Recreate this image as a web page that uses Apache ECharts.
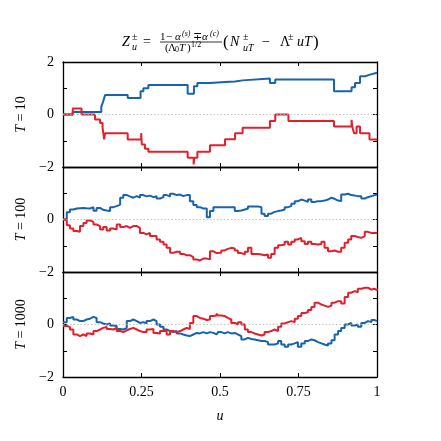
<!DOCTYPE html>
<html>
<head>
<meta charset="utf-8">
<script src="https://cdn.jsdelivr.net/npm/echarts@6/dist/echarts.min.js"></script>
<style>
html,body{margin:0;padding:0;background:#fff;}
#chart{width:441px;height:441px;}
</style>
</head>
<body>
<div id="chart"></div>
<script>
// panel labels and ticks
var panel_T = ['10', '100', '1000'];
var u_ticks = [0, 0.25, 0.5, 0.75, 1];

// T = 10 : step points (u where the value starts, value)
var t10_blue_u = [0, 0.031, 0.122, 0.128, 0.134, 0.206, 0.247, 0.256, 0.272, 0.397, 0.417, 0.428, 0.468, 0.516, 0.548, 0.572, 0.659, 0.676, 0.863, 0.919, 0.93, 0.946, 0.962, 0.978, 1];
var t10_blue_v = [0, 0.1, 0.3, 0.5, 0.74, 0.63, 0.89, 1.0, 1.12, 0.79, 1.08, 1.2, 1.24, 1.26, 1.3, 1.37, 1.2, 1.33, 0.89, 1.04, 1.2, 1.46, 1.52, 1.59, 1.59];
var t10_red_u = [0, 0.031, 0.059, 0.102, 0.118, 0.126, 0.131, 0.134, 0.206, 0.249, 0.251, 0.261, 0.272, 0.397, 0.416, 0.418, 0.428, 0.468, 0.516, 0.548, 0.572, 0.659, 0.676, 0.718, 0.863, 0.919, 0.921, 0.927, 0.935, 0.946, 0.976, 1];
var t10_red_v = [0, 0.23, 0, -0.19, -0.32, -0.5, -0.95, -0.71, -0.95, -0.71, -1.14, -1.3, -1.42, -1.65, -1.9, -1.65, -1.42, -1.17, -0.94, -0.71, -0.5, -0.25, 0, -0.25, -0.46, -0.2, -0.46, -0.71, -0.46, -0.71, -0.95, -0.95];

// T = 100 and T = 1000 : values read on a common u grid
var u_fine = [0, 0.012, 0.022, 0.033, 0.044, 0.054, 0.065, 0.075, 0.086, 0.097, 0.107, 0.118, 0.128, 0.139, 0.150, 0.160, 0.171, 0.182, 0.192, 0.203, 0.213, 0.224, 0.235, 0.245, 0.256, 0.266, 0.277, 0.288, 0.298, 0.309, 0.320, 0.330, 0.341, 0.351, 0.362, 0.373, 0.383, 0.394, 0.404, 0.415, 0.426, 0.436, 0.447, 0.458, 0.468, 0.479, 0.489,
    0.494, 0.504, 0.515, 0.525, 0.536, 0.547, 0.557, 0.568, 0.579, 0.589, 0.600, 0.610, 0.621, 0.632, 0.642, 0.653, 0.663, 0.674, 0.685, 0.695, 0.706, 0.717, 0.727, 0.738, 0.748, 0.759, 0.770, 0.780, 0.791, 0.801, 0.812, 0.823, 0.833, 0.844, 0.855, 0.865, 0.876, 0.886, 0.897, 0.908, 0.918, 0.929, 0.939, 0.950, 0.961, 0.971, 0.982, 0.993, 1.0];
var t100_blue = [0, 0.28, 0.38, 0.42, 0.43, 0.44, 0.43, 0.42, 0.47, 0.33, 0.44, 0.37, 0.34, 0.32, 0.47, 0.51, 0.57, 0.83, 0.93, 0.88, 0.83, 0.89, 0.83, 0.93, 0.88, 0.91, 0.85, 0.89, 0.80, 0.85, 0.93, 0.88, 0.98, 0.93, 0.95, 0.89, 0.93, 0.93, 0.70, 0.55, 0.47, 0.42, 0.42, 0.09, 0.32, 0.47, 0.48,
    0.47, 0.47, 0.47, 0.47, 0.47, 0.32, 0.34, 0.38, 0.42, 0.50, 0.50, 0.50, 0.47, 0.22, 0.13, 0.22, 0.29, 0.32, 0.34, 0.38, 0.47, 0.51, 0.60, 0.70, 0.76, 0.72, 0.67, 0.76, 0.67, 0.70, 0.70, 0.72, 0.76, 0.83, 0.79, 0.72, 0.70, 0.95, 0.98, 0.93, 0.91, 0.89, 0.89, 0.80, 0.85, 0.89, 0.93, 0.95, 0.95];
var t100_red = [0, -0.22, -0.34, -0.44, -0.47, -0.25, -0.13, -0.04, -0.09, -0.19, -0.25, -0.38, -0.29, -0.42, -0.34, -0.38, -0.19, -0.29, -0.25, -0.32, -0.25, -0.25, -0.32, -0.51, -0.57, -0.51, -0.63, -0.63, -0.76, -0.85, -0.95, -1.08, -1.27, -1.23, -1.23, -1.31, -1.36, -1.36, -1.43, -1.52, -1.56, -1.49, -1.49, -1.52, -1.21, -1.28, -1.23,
    -1.27, -1.18, -1.12, -1.08, -1.10, -1.18, -1.28, -1.33, -1.23, -1.08, -1.31, -1.31, -1.33, -1.36, -1.33, -1.46, -1.31, -1.08, -0.98, -0.95, -0.85, -0.95, -0.85, -0.76, -0.70, -0.83, -0.93, -0.85, -0.93, -0.95, -0.93, -0.85, -1.08, -1.21, -1.18, -1.23, -1.23, -1.08, -0.89, -0.76, -0.63, -0.67, -0.70, -0.63, -0.47, -0.51, -0.51, -0.51, -0.51];
var t1000_blue = [0.09, 0.25, 0.29, 0.19, 0.13, 0.13, 0.19, 0.22, 0.29, 0.25, 0.09, 0.04, 0, 0.04, -0.04, -0.06, -0.17, -0.19, -0.13, 0.13, 0.19, 0.13, 0.06, 0.09, 0.04, 0.13, 0.19, 0.13, 0, -0.09, -0.19, -0.25, -0.29, -0.25, -0.34, -0.38, -0.42, -0.44, -0.38, -0.32, -0.34, -0.29, -0.34, -0.29, -0.32, -0.38, -0.44,
    -0.29, -0.34, -0.29, -0.34, -0.32, -0.38, -0.44, -0.57, -0.51, -0.55, -0.57, -0.60, -0.63, -0.63, -0.67, -0.76, -0.76, -0.72, -0.63, -0.76, -0.85, -0.76, -0.72, -0.67, -0.85, -0.72, -0.63, -0.57, -0.60, -0.67, -0.72, -0.76, -0.80, -0.72, -0.60, -0.38, -0.25, -0.13, 0, 0.06, -0.04, 0, -0.09, 0.06, 0.13, 0.09, 0.17, 0.13, 0.13];
var t1000_red = [-0.06, -0.09, -0.19, -0.38, -0.44, -0.38, -0.44, -0.34, -0.38, -0.25, -0.19, -0.13, -0.09, -0.17, -0.19, -0.13, -0.25, -0.29, -0.22, -0.17, -0.13, -0.19, -0.25, -0.29, -0.29, -0.19, -0.17, -0.32, -0.34, -0.25, -0.22, -0.38, -0.25, -0.29, -0.25, -0.19, -0.13, -0.17, 0.06, 0.32, 0.25, 0.22, 0.17, 0.19, 0.32, 0.34, 0.42,
    0.34, 0.32, 0.25, 0.19, 0.06, 0, 0.09, 0, -0.19, -0.29, -0.34, -0.38, -0.42, -0.38, -0.29, -0.25, -0.19, -0.25, -0.09, 0.04, 0.09, 0.13, 0.09, 0.22, 0.32, 0.44, 0.47, 0.55, 0.67, 0.83, 0.76, 0.72, 0.67, 0.72, 0.83, 0.89, 0.89, 0.80, 1.05, 1.21, 1.27, 1.23, 1.36, 1.40, 1.40, 1.33, 1.36, 1.31, 1.36];

var blue = '#1764ab';
var red = '#e1202b';
var serif = '"Liberation Serif", "DejaVu Serif", serif';

function zip(us, vs) {
    var out = [];
    for (let i = 0; i < us.length; i++) out.push([us[i], vs[i]]);
    return out;
}

var panels = [
    {blue: zip(t10_blue_u, t10_blue_v), red: zip(t10_red_u, t10_red_v)},
    {blue: zip(u_fine, t100_blue), red: zip(u_fine, t100_red)},
    {blue: zip(u_fine, t1000_blue), red: zip(u_fine, t1000_red)},
];

var grids = [], x_axes = [], y_axes = [], series = [];
var axis_line = {show: true, onZero: false, lineStyle: {color: '#000', width: 1.3}};
var tick = {show: true, inside: true, length: 4, lineStyle: {color: '#000', width: 1}};

panels.forEach(function(p, i) {
    grids.push({left: 63, width: 314, top: 62 + i * 105, height: 105, show: false});
    x_axes.push({
        type: 'value', gridIndex: i, min: 0, max: 1, interval: 0.25,
        axisLine: axis_line, axisTick: tick, splitLine: {show: false},
        axisLabel: {show: i === 2, margin: 8, fontSize: 14, fontFamily: serif, color: '#000',
            showMinLabel: true, showMaxLabel: true},
        name: i === 2 ? 'u' : '', nameLocation: 'middle', nameGap: 32,
        nameTextStyle: {fontSize: 14, fontFamily: serif, fontStyle: 'italic', color: '#000'},
    });
    y_axes.push({
        type: 'value', gridIndex: i, min: -2, max: 2, interval: 1,
        axisLine: axis_line, axisTick: tick, splitLine: {show: false},
        axisLabel: {
            margin: 9, fontSize: 14, fontFamily: serif, color: '#000',
            showMinLabel: true, showMaxLabel: true,
            formatter: function(v) {
                if (v === 0) return '0';
                if (v === -2) return '\u22122';
                if (v === 2 && i === 0) return '2';
                return '';
            },
        },
        name: '{i|T} = ' + panel_T[i], nameLocation: 'middle', nameRotate: 90, nameGap: 34,
        nameTextStyle: {fontSize: 14, fontFamily: serif, color: '#000',
            rich: {i: {fontSize: 14, fontFamily: serif, fontStyle: 'italic', color: '#000'}}},
    });
});
// mirrored ticks on top and right of every panel
panels.forEach(function(p, i) {
    x_axes.push({
        type: 'value', gridIndex: i, position: 'top', min: 0, max: 1, interval: 0.25,
        axisLine: axis_line, axisTick: tick, axisLabel: {show: false}, splitLine: {show: false},
    });
    y_axes.push({
        type: 'value', gridIndex: i, position: 'right', min: -2, max: 2, interval: 1,
        axisLine: axis_line, axisTick: tick, axisLabel: {show: false}, splitLine: {show: false},
    });
});

panels.forEach(function(p, i) {
    series.push({
        type: 'line', xAxisIndex: i, yAxisIndex: i, step: 'end', symbol: 'none',
        lineStyle: {color: blue, width: 2}, data: p.blue, z: 3,
        markLine: {
            silent: true, symbol: 'none', label: {show: false}, animation: false,
            lineStyle: {color: '#b5b5b5', type: [1.5, 2], width: 0.8},
            data: [{yAxis: 0}],
        },
    });
    series.push({
        type: 'line', xAxisIndex: i, yAxisIndex: i, step: 'end', symbol: 'none',
        lineStyle: {color: red, width: 2}, data: p.red, z: 4,
    });
});

// title formula, built from pieces
function piece(text, x, y, size, italic) {
    return {
        type: 'text', x: x, y: y, silent: true,
        style: {text: text, fontSize: size, fontFamily: serif, fontStyle: italic ? 'italic' : 'normal',
            fill: '#000', verticalAlign: 'middle', textVerticalAlign: 'middle'},
    };
}
var title = [
    piece('Z', 122, 42, 14, true),
    piece('\u00b1', 132, 37, 10, false),
    piece('u', 132, 47, 10, true),
    piece('=', 143, 42, 14, false),
    piece('1', 160, 37, 11, false),
    piece('\u2212', 166, 37, 11, false),
    piece('\u03b1', 175, 37, 11, true),
    piece('(s)', 182, 34, 8, true),
    piece('\u2213', 193, 37, 11, false),
    piece('\u03b1', 202, 37, 11, true),
    piece('(c)', 210, 34, 8, true),
    piece('(', 165, 48, 11, false),
    piece('\u039b', 168, 48, 11, false),
    piece('0', 175, 50, 8, false),
    piece('T', 179, 48, 11, true),
    piece(')', 187, 48, 11, false),
    piece('1/2', 191, 45, 8, false),
    piece('(', 223, 43, 17, false),
    piece('N', 230, 42, 14, true),
    piece('\u00b1', 243, 37, 10, false),
    piece('uT', 243, 48, 10, true),
    piece('\u2212', 262, 42, 14, false),
    piece('\u039b', 280, 42, 14, false),
    piece('\u00b1', 288, 37, 10, false),
    piece('uT', 297, 42, 14, true),
    piece(')', 313, 43, 17, false),
    {type: 'line', silent: true, shape: {x1: 160, y1: 42, x2: 222, y2: 42}, style: {stroke: '#000', lineWidth: 0.8}},
];

var option = {
    animation: false,
    backgroundColor: '#fff',
    textStyle: {fontFamily: serif},
    grid: grids,
    xAxis: x_axes,
    yAxis: y_axes,
    series: series,
    graphic: title,
};
var myChart = echarts.init(document.getElementById('chart'));
myChart.setOption(option);
</script>
</body>
</html>
